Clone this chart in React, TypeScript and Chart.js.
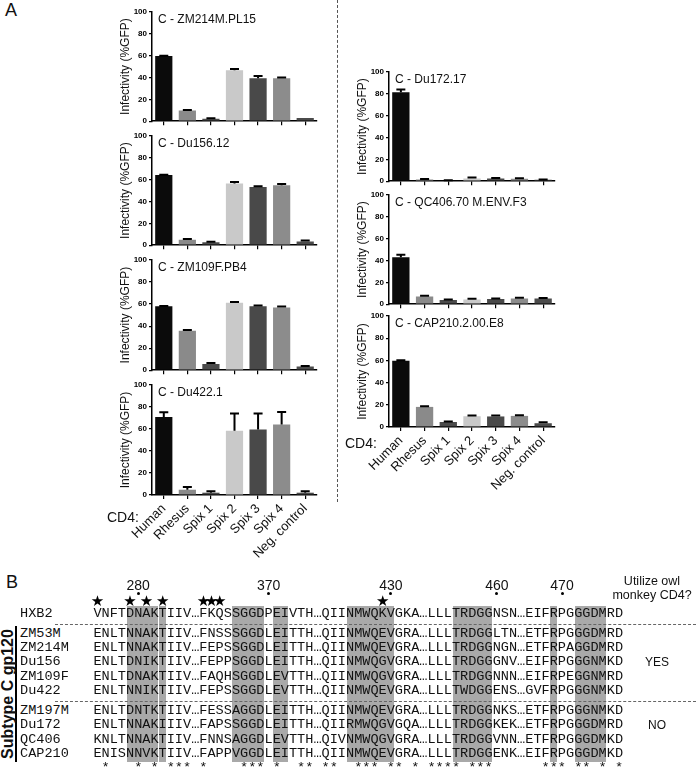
import React, { useEffect, useRef } from "react";
import { Chart, registerables } from "chart.js";

Chart.register(...registerables);

const SANS = "'Liberation Sans', Arial, Helvetica, sans-serif";
const MONO = "'Liberation Mono', 'Courier New', monospace";

// ---------------- Panel A data ----------------
const CD4_LABELS = ["Human", "Rhesus", "Spix 1", "Spix 2", "Spix 3", "Spix 4", "Neg. control"];
const Y_MIN = 0;
const Y_MAX = 100;
const Y_STEP = 20;
const Y_TITLE = "Infectivity (%GFP)";

const ZM214M_MEAN = [59.6, 9.7, 2.3, 46.6, 39.3, 39.3, 3.0];
const ZM214M_SEM = [0.4, 0.6, 0.5, 1.3, 2.0, 0.7, 0];

const DU156_MEAN = [64.3, 5.0, 2.8, 56.5, 53.3, 54.8, 3.5];
const DU156_SEM = [0.3, 0.6, 0.3, 1.4, 0.7, 1.2, 0.7];

const ZM109F_MEAN = [58.0, 35.8, 5.7, 61.3, 58.0, 57.0, 3.3];
const ZM109F_SEM = [0.3, 0.7, 0.9, 0.5, 0.7, 0.9, 0.4];

const DU422_MEAN = [70.8, 4.8, 2.1, 58.5, 59.5, 64.0, 2.1];
const DU422_SEM = [4.5, 2.5, 1.2, 15.5, 14.5, 11.5, 1.2];

const DU172_MEAN = [81.5, 1.5, 0.6, 2.4, 2.5, 2.2, 1.3];
const DU172_SEM = [2.5, 0.5, 0.2, 0.9, 0.5, 0.6, 0.3];

const QC406_MEAN = [43.0, 7.0, 3.8, 4.2, 4.7, 5.3, 5.2];
const QC406_SEM = [2.2, 0.7, 0.4, 0.9, 0.5, 0.6, 0.5];

const CAP210_MEAN = [59.6, 18.1, 4.5, 9.7, 9.5, 10.0, 3.4];
const CAP210_SEM = [0.5, 0.6, 0.4, 0.6, 0.8, 0.6, 0.8];

const BAR_FILLS = ["#0b0b0b", "#8a8a8a", "#4b4b4b", "#c9c9c9", "#494949", "#8c8c8c", "#4b4b4b"];

// ---------------- Panel B data ----------------
const ALIGN_NAMES = ["HXB2", "ZM53M", "ZM214M", "Du156", "ZM109F", "Du422", "ZM197M", "Du172", "QC406", "CAP210"];
const ALIGN_SEQS = [
  "VNFTDNAKTIIV\u2026FKQSSGGDPEIVTH\u2026QIINMWQKVGKA\u2026LLLTRDGGNSN\u2026EIFRPGGGDMRD",
  "ENLTNNAKTIIV\u2026FNSSSGGDLEITTH\u2026QIINMWQEVGRA\u2026LLLTRDGGLTN\u2026ETFRPGGGDMRD",
  "ENLTNNAKTIIV\u2026FEPSSGGDLEITTH\u2026QIINMWQEVGRA\u2026LLLTRDGGNGN\u2026ETFRPAGGDMRD",
  "ENLTDNIKTIIV\u2026FEPPSGGDLEITTH\u2026QIINMWQGVGRA\u2026LLLTRDGGGNV\u2026EIFRPGGGNMKD",
  "ENLTDNAKTIIV\u2026FAQHSGGDLEVTTH\u2026QIINMWQGVGRA\u2026LLLTRDGGNNN\u2026EIFRPEGGNMRD",
  "ENLTNNIKTIIV\u2026FEPSSGGDLEVTTH\u2026QIINMWQEVGRA\u2026LLLTWDGGENS\u2026GVFRPGGGNMKD",
  "ENLTDNTKTIIV\u2026FESSAGGDLEITTH\u2026QIINMWQEVGRA\u2026LLLTRDGGNKS\u2026ETFRPGGGNMKD",
  "ENLTNNAKIIIV\u2026FAPSSGGDLEITTH\u2026QIIRMWQGVGQA\u2026LLLTRDGGKEK\u2026ETFRPGGGDMRD",
  "KNLTNNAKTIIV\u2026FNNSAGGDLEVTTH\u2026QIVNMWQGVGRA\u2026LLLTRDGGVNN\u2026ETFRPGGGDMKD",
  "ENISNNVKTIIV\u2026FAPPVGGDLEITTH\u2026QIINMWQEVGRA\u2026LLLTRDGGENK\u2026EIFRPGGGDMKD",
];
const CD4BS_COLUMNS: [number, number][] = [[4, 7], [8, 8], [17, 20], [22, 23], [31, 36], [44, 48], [56, 56], [59, 62]];
const STAR_COLUMNS = [0, 4, 6, 8, 13, 14, 15, 35];
const POSITION_LABELS = ["280", "370", "430", "460", "470"];
const POSITION_COLUMNS = [5, 21, 36, 49, 57];
const OWL_ANSWERS = ["YES", "NO"];
const OWL_ANSWER_ROWS = [3, 7];

// ---------------- Chart panel ----------------
const Y_AXIS_W = 40;
const PAD_TOP = 12;
const PAD_RIGHT = 8;

const semPlugin = {
  id: "semBars",
  afterDatasetsDraw(chart: any, _args: any, opts: any) {
    const sem: number[] = (opts && opts.sem) || [];
    const meta = chart.getDatasetMeta(0);
    const ys = chart.scales.y;
    const vals = chart.data.datasets[0].data as number[];
    const ctx = chart.ctx;
    ctx.save();
    ctx.strokeStyle = "#000";
    ctx.lineWidth = 2;
    meta.data.forEach((bar: any, i: number) => {
      const e = sem[i];
      if (!e) return;
      const yTop = ys.getPixelForValue(vals[i] + e);
      ctx.beginPath();
      ctx.moveTo(bar.x, bar.y);
      ctx.lineTo(bar.x, yTop);
      ctx.moveTo(bar.x - 4.5, yTop);
      ctx.lineTo(bar.x + 4.5, yTop);
      ctx.stroke();
    });
    ctx.restore();
  },
};

const panelTitlePlugin = {
  id: "panelTitle",
  afterDraw(chart: any, _args: any, opts: any) {
    const { ctx, chartArea } = chart;
    ctx.save();
    ctx.font = `12px ${SANS}`;
    ctx.fillStyle = "#111";
    ctx.textBaseline = "middle";
    ctx.textAlign = "left";
    ctx.fillText(opts.text || "", chartArea.left + 6, chartArea.top + 8);
    ctx.restore();
  },
};

type PanelProps = {
  title: string;
  mean: number[];
  sem: number[];
  left: number;
  top: number;
  right: number;
  bottom: number;
  labels: boolean;
};

function BarPanel(p: PanelProps) {
  const ref = useRef<HTMLCanvasElement>(null);
  const xAxisH = p.labels ? 96 : 6;
  const w = p.right - p.left + Y_AXIS_W + PAD_RIGHT;
  const h = PAD_TOP + (p.bottom - p.top) + xAxisH;

  useEffect(() => {
    if (!ref.current) return;
    const chart = new Chart(ref.current, {
      type: "bar",
      data: {
        labels: CD4_LABELS,
        datasets: [
          {
            data: p.mean,
            backgroundColor: BAR_FILLS,
            borderWidth: 0,
            barPercentage: 0.73,
            categoryPercentage: 1,
          },
        ],
      },
      options: {
        animation: false,
        responsive: false,
        maintainAspectRatio: false,
        devicePixelRatio: 1,
        layout: { padding: { top: PAD_TOP, right: PAD_RIGHT, left: 0, bottom: 0 } },
        plugins: {
          legend: { display: false },
          tooltip: { enabled: false },
          title: { display: false },
          semBars: { sem: p.sem },
          panelTitle: { text: p.title },
        } as any,
        scales: {
          x: {
            type: "category",
            offset: true,
            grid: {
              display: true,
              drawOnChartArea: false,
              drawTicks: true,
              tickLength: 4,
              offset: false,
              color: "#000",
              lineWidth: 1.2,
            },
            border: { display: true, color: "#000", width: 1.5 },
            ticks: {
              display: p.labels,
              autoSkip: false,
              minRotation: 45,
              maxRotation: 45,
              padding: 2,
              color: "#111",
              font: { family: SANS, size: 13 },
            },
            afterFit: (s: any) => {
              s.height = xAxisH;
            },
          } as any,
          y: {
            min: Y_MIN,
            max: Y_MAX,
            ticks: {
              stepSize: Y_STEP,
              color: "#000",
              padding: 2,
              font: { family: SANS, size: 8, weight: "bold" },
            },
            grid: {
              drawOnChartArea: false,
              drawTicks: true,
              tickLength: 3,
              color: "#000",
              lineWidth: 1.2,
            },
            border: { display: true, color: "#000", width: 1.5 },
            title: {
              display: true,
              text: Y_TITLE,
              color: "#111",
              font: { family: SANS, size: 12 },
              padding: { top: 6.8, bottom: 0 },
            },
            afterFit: (s: any) => {
              s.width = Y_AXIS_W;
            },
          } as any,
        },
      },
      plugins: [semPlugin, panelTitlePlugin],
    });
    return () => chart.destroy();
  }, []);

  return (
    <canvas
      ref={ref}
      width={w}
      height={h}
      style={{
        position: "absolute",
        left: p.left - Y_AXIS_W,
        top: p.top - PAD_TOP,
        width: w,
        height: h,
      }}
    />
  );
}

// ---------------- helpers ----------------
function Txt(props: {
  x: number;
  y: number;
  text: string;
  size: number;
  align?: "left" | "center" | "right";
  weight?: string;
  family?: string;
  color?: string;
}) {
  const dx = props.align === "center" ? "-50%" : props.align === "right" ? "-100%" : "0";
  return (
    <div
      style={{
        position: "absolute",
        left: props.x,
        top: props.y,
        transform: `translate(${dx}, -50%)`,
        fontFamily: props.family || SANS,
        fontSize: props.size,
        fontWeight: (props.weight as any) || "normal",
        color: props.color || "#111",
        lineHeight: 1,
        whiteSpace: "pre",
      }}
    >
      {props.text}
    </div>
  );
}

const SEQ_X = 93.4;
const CW = 8.15;
const NAME_X = 20;
const ROW_Y = [614, 633.5, 648, 662.4, 676.8, 691.2, 710.7, 725.1, 739.6, 754];
const ASTERISK_Y = 768;

function conservedLine(): string {
  const n = ALIGN_SEQS[0].length;
  let out = "";
  for (let i = 0; i < n; i++) {
    const c = ALIGN_SEQS[0][i];
    const same = c !== "\u2026" && ALIGN_SEQS.every((s) => s[i] === c);
    out += same ? "*" : " ";
  }
  return out;
}

const PANELS: PanelProps[] = [
  { title: "C - ZM214M.PL15", mean: ZM214M_MEAN, sem: ZM214M_SEM, left: 152, top: 12, right: 317, bottom: 122, labels: false },
  { title: "C - Du156.12", mean: DU156_MEAN, sem: DU156_SEM, left: 152, top: 136, right: 317, bottom: 246, labels: false },
  { title: "C - ZM109F.PB4", mean: ZM109F_MEAN, sem: ZM109F_SEM, left: 152, top: 260, right: 317, bottom: 371, labels: false },
  { title: "C - Du422.1", mean: DU422_MEAN, sem: DU422_SEM, left: 152, top: 385, right: 317, bottom: 495, labels: true },
  { title: "C - Du172.17", mean: DU172_MEAN, sem: DU172_SEM, left: 389, top: 72, right: 555, bottom: 182, labels: false },
  { title: "C - QC406.70 M.ENV.F3", mean: QC406_MEAN, sem: QC406_SEM, left: 389, top: 195, right: 555, bottom: 305, labels: false },
  { title: "C - CAP210.2.00.E8", mean: CAP210_MEAN, sem: CAP210_SEM, left: 389, top: 316, right: 555, bottom: 427, labels: true },
];

export default function App() {
  const seqFont = 13.583;
  const stars = conservedLine();
  const grayTop = ROW_Y[0] - 8;
  const grayBottom = ROW_Y[ROW_Y.length - 1] + 8;
  return (
    <div
      style={{
        position: "absolute",
        left: 0,
        top: 0,
        width: 696,
        height: 777,
        background: "#fff",
        overflow: "hidden",
      }}
    >
      {/* Panel A */}
      <Txt x={5} y={10} text="A" size={18} />
      <div
        style={{
          position: "absolute",
          left: 337,
          top: 0,
          height: 502,
          width: 0,
          borderLeft: "1px dashed #555",
        }}
      />
      {PANELS.map((p, i) => (
        <BarPanel key={i} {...p} />
      ))}
      <Txt x={107} y={517} text="CD4:" size={14} />
      <Txt x={345} y={443} text="CD4:" size={14} />

      {/* Panel B */}
      <Txt x={6} y={582} text="B" size={18} />
      {CD4BS_COLUMNS.map(([a, b], i) => (
        <div
          key={"g" + i}
          style={{
            position: "absolute",
            left: SEQ_X + a * CW + 0.5,
            top: grayTop,
            width: (b - a + 1) * CW - 1.5,
            height: grayBottom - grayTop,
            background: "#a9a9a9",
          }}
        />
      ))}
      {POSITION_LABELS.map((t, i) => {
        const cx = SEQ_X + (POSITION_COLUMNS[i] + 0.5) * CW;
        return (
          <React.Fragment key={"p" + i}>
            <Txt x={cx} y={585} text={t} size={14} align="center" />
            <div
              style={{
                position: "absolute",
                left: cx - 1.5,
                top: 592,
                width: 3,
                height: 3,
                borderRadius: 2,
                background: "#000",
              }}
            />
          </React.Fragment>
        );
      })}
      {STAR_COLUMNS.map((c, i) => (
        <Txt
          key={"s" + i}
          x={SEQ_X + (c + 0.5) * CW}
          y={601}
          text={"\u2605"}
          size={15}
          align="center"
          family="'DejaVu Sans', sans-serif"
          color="#000"
        />
      ))}
      <div
        style={{
          position: "absolute",
          left: 55,
          top: (ROW_Y[0] + ROW_Y[1]) / 2,
          width: 641,
          height: 0,
          borderTop: "1px dashed #666",
        }}
      />
      <div
        style={{
          position: "absolute",
          left: 55,
          top: (ROW_Y[5] + ROW_Y[6]) / 2,
          width: 641,
          height: 0,
          borderTop: "1px dashed #666",
        }}
      />
      {ALIGN_NAMES.map((n, i) => (
        <React.Fragment key={"r" + i}>
          <Txt x={NAME_X} y={ROW_Y[i]} text={n} size={seqFont} family={MONO} color="#111" />
          <Txt x={SEQ_X} y={ROW_Y[i]} text={ALIGN_SEQS[i]} size={seqFont} family={MONO} color="#111" />
        </React.Fragment>
      ))}
      <Txt x={SEQ_X} y={ASTERISK_Y} text={stars} size={seqFont} family={MONO} color="#111" />
      <div
        style={{
          position: "absolute",
          left: 15,
          top: ROW_Y[1] - 8,
          width: 2,
          height: ROW_Y[ROW_Y.length - 1] - ROW_Y[1] + 16,
          background: "#000",
        }}
      />
      <div
        style={{
          position: "absolute",
          left: 8,
          top: (ROW_Y[1] + ROW_Y[ROW_Y.length - 1]) / 2,
          transform: "translate(-50%, -50%) rotate(-90deg)",
          fontFamily: SANS,
          fontWeight: "bold",
          fontSize: 16,
          whiteSpace: "nowrap",
          lineHeight: 1,
          color: "#111",
        }}
      >
        Subtype C gp120
      </div>
      <Txt x={652} y={581} text="Utilize owl" size={12.5} align="center" />
      <Txt x={652} y={595} text="monkey CD4?" size={12.5} align="center" />
      {OWL_ANSWERS.map((t, i) => (
        <Txt key={"o" + i} x={657} y={ROW_Y[OWL_ANSWER_ROWS[i]]} text={t} size={12} align="center" />
      ))}
    </div>
  );
}
